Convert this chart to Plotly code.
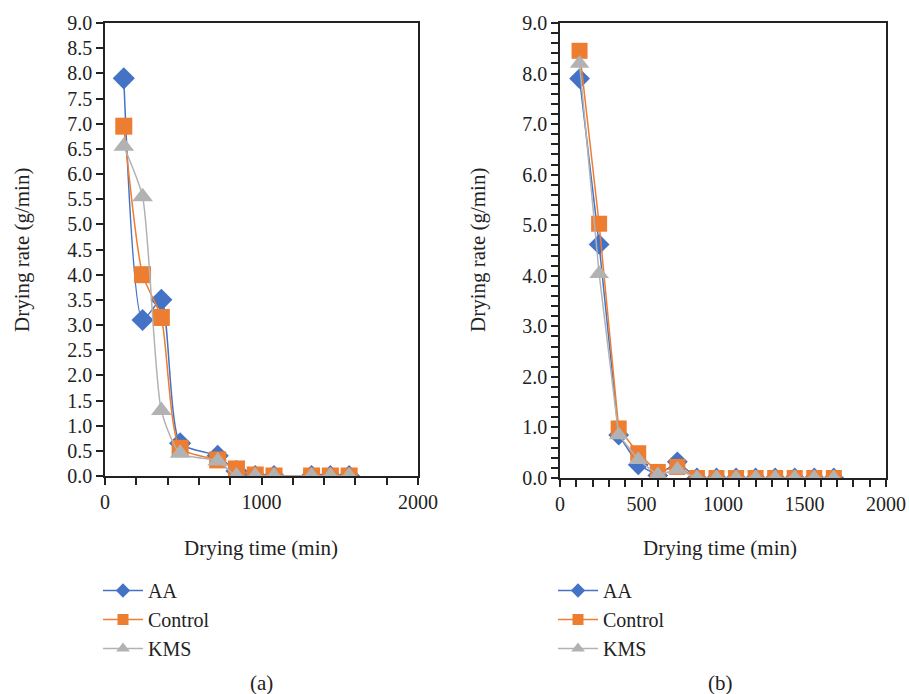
import plotly.graph_objects as go

# ---- Data: panel (a)
time_a = [120, 240, 360, 480, 720, 840, 960, 1080, 1320, 1440, 1560]
aa_a = [7.9, 3.1, 3.5, 0.65, 0.4, 0.1, 0.0, 0.0, 0.0, 0.0, 0.0]
control_a = [6.95, 4.0, 3.15, 0.55, 0.32, 0.14, 0.02, 0.0, 0.0, 0.0, 0.0]
kms_a = [6.55, 5.55, 1.3, 0.45, 0.3, 0.0, 0.0, 0.0, 0.0, 0.0, 0.0]

# ---- Data: panel (b)
time_b = [120, 240, 360, 480, 600, 720, 840, 960, 1080, 1200, 1320, 1440, 1560, 1680]
aa_b = [7.9, 4.62, 0.85, 0.26, 0.05, 0.32, 0.0, 0.0, 0.0, 0.0, 0.0, 0.0, 0.0, 0.0]
control_b = [8.45, 5.03, 0.98, 0.49, 0.12, 0.22, 0.0, 0.0, 0.0, 0.0, 0.0, 0.0, 0.0, 0.0]
kms_b = [8.2, 4.04, 0.85, 0.36, 0.06, 0.17, 0.0, 0.0, 0.0, 0.0, 0.0, 0.0, 0.0, 0.0]

series_names = ["AA", "Control", "KMS"]
colors = ["#4472C4", "#ED7D31", "#B2B2B2"]
symbols = ["diamond", "square", "triangle-up"]
sizes_a = [17, 17, 18]
sizes_b = [16, 16, 17]
legend_sizes = [11, 11, 12]

FONT = "Liberation Serif"
W, H = 909, 694

fig = go.Figure()

for name, ys, c, s, sz in zip(series_names, [aa_a, control_a, kms_a], colors, symbols, sizes_a):
    fig.add_trace(go.Scatter(
        x=time_a, y=ys, name=name, mode="lines+markers", showlegend=False,
        line=dict(color=c, width=1.5, shape="spline", smoothing=0.6),
        marker=dict(symbol=s, size=sz, color=c),
        xaxis="x", yaxis="y"))

for name, ys, c, s, sz in zip(series_names, [aa_b, control_b, kms_b], colors, symbols, sizes_b):
    fig.add_trace(go.Scatter(
        x=time_b, y=ys, name=name, mode="lines+markers", showlegend=False,
        line=dict(color=c, width=1.5),
        marker=dict(symbol=s, size=sz, color=c),
        xaxis="x2", yaxis="y2"))

# legend entries (smaller symbols, as in the reference legends)
for leg, xa, ya in [("legend", "x", "y"), ("legend2", "x2", "y2")]:
    for name, c, s, sz in zip(series_names, colors, symbols, legend_sizes):
        fig.add_trace(go.Scatter(
            x=[None], y=[None], name=name, mode="lines+markers",
            line=dict(color=c, width=1.5),
            marker=dict(symbol=s, size=sz, color=c),
            xaxis=xa, yaxis=ya, legend=leg, showlegend=True))

def px_x(p):
    return p / W

def px_y(p):
    return 1 - p / H

axis_common = dict(showline=True, linecolor="#222", linewidth=1.5, mirror=True,
                   ticks="outside", tickcolor="#222", ticklen=7, tickwidth=1.5,
                   showgrid=False, zeroline=False,
                   tickfont=dict(family=FONT, size=20, color="#222"))

legend_common = dict(xanchor="left", yanchor="top", bgcolor="rgba(0,0,0,0)",
                     font=dict(family=FONT, size=20, color="#222"),
                     itemwidth=40, tracegroupgap=0, itemsizing="trace")

fig.update_layout(
    width=W, height=H,
    margin=dict(l=0, r=0, t=0, b=0, pad=0, autoexpand=False),
    paper_bgcolor="white", plot_bgcolor="white",
    font=dict(family=FONT, size=20, color="#222"),
    xaxis=dict(domain=[px_x(105), px_x(418)], range=[0, 2000], anchor="y",
               tickvals=[0, 1000, 2000], ticktext=["0", "1000", "2000"],
               minor=dict(dtick=200, ticks="outside", ticklen=7, tickcolor="#222", tickwidth=1.5),
               **axis_common),
    yaxis=dict(domain=[px_y(476), px_y(23)], range=[0, 9], anchor="x",
               dtick=0.5, tickformat=".1f", **axis_common),
    xaxis2=dict(domain=[px_x(560), px_x(886)], range=[0, 2000], anchor="y2",
                dtick=500,
                minor=dict(dtick=100, ticks="outside", ticklen=7, tickcolor="#222", tickwidth=1.5),
                **axis_common),
    yaxis2=dict(domain=[px_y(478), px_y(23)], range=[0, 9], anchor="x2",
                dtick=1, tickformat=".1f",
                minor=dict(dtick=0.2, ticks="outside", ticklen=7, tickcolor="#222", tickwidth=1.5),
                **axis_common),
    legend=dict(x=px_x(98), y=px_y(571), **legend_common),
    legend2=dict(x=px_x(553), y=px_y(571), **legend_common),
)

annots = [
    dict(text="Drying time (min)", x=px_x(261), y=px_y(548)),
    dict(text="Drying time (min)", x=px_x(720), y=px_y(548)),
    dict(text="Drying rate (g/min)", x=px_x(22), y=px_y(250), textangle=-90),
    dict(text="Drying rate (g/min)", x=px_x(478), y=px_y(250), textangle=-90),
    dict(text="(a)", x=px_x(261), y=px_y(683)),
    dict(text="(b)", x=px_x(720), y=px_y(683)),
]
for a in annots:
    fig.add_annotation(xref="paper", yref="paper", showarrow=False,
                       xanchor="center", yanchor="middle",
                       font=dict(family=FONT, size=21, color="#222"), **a)

fig.write_html("out.html", config=dict(displayModeBar=False),
               post_script="document.body.style.margin='0';document.body.style.overflow='hidden';")
